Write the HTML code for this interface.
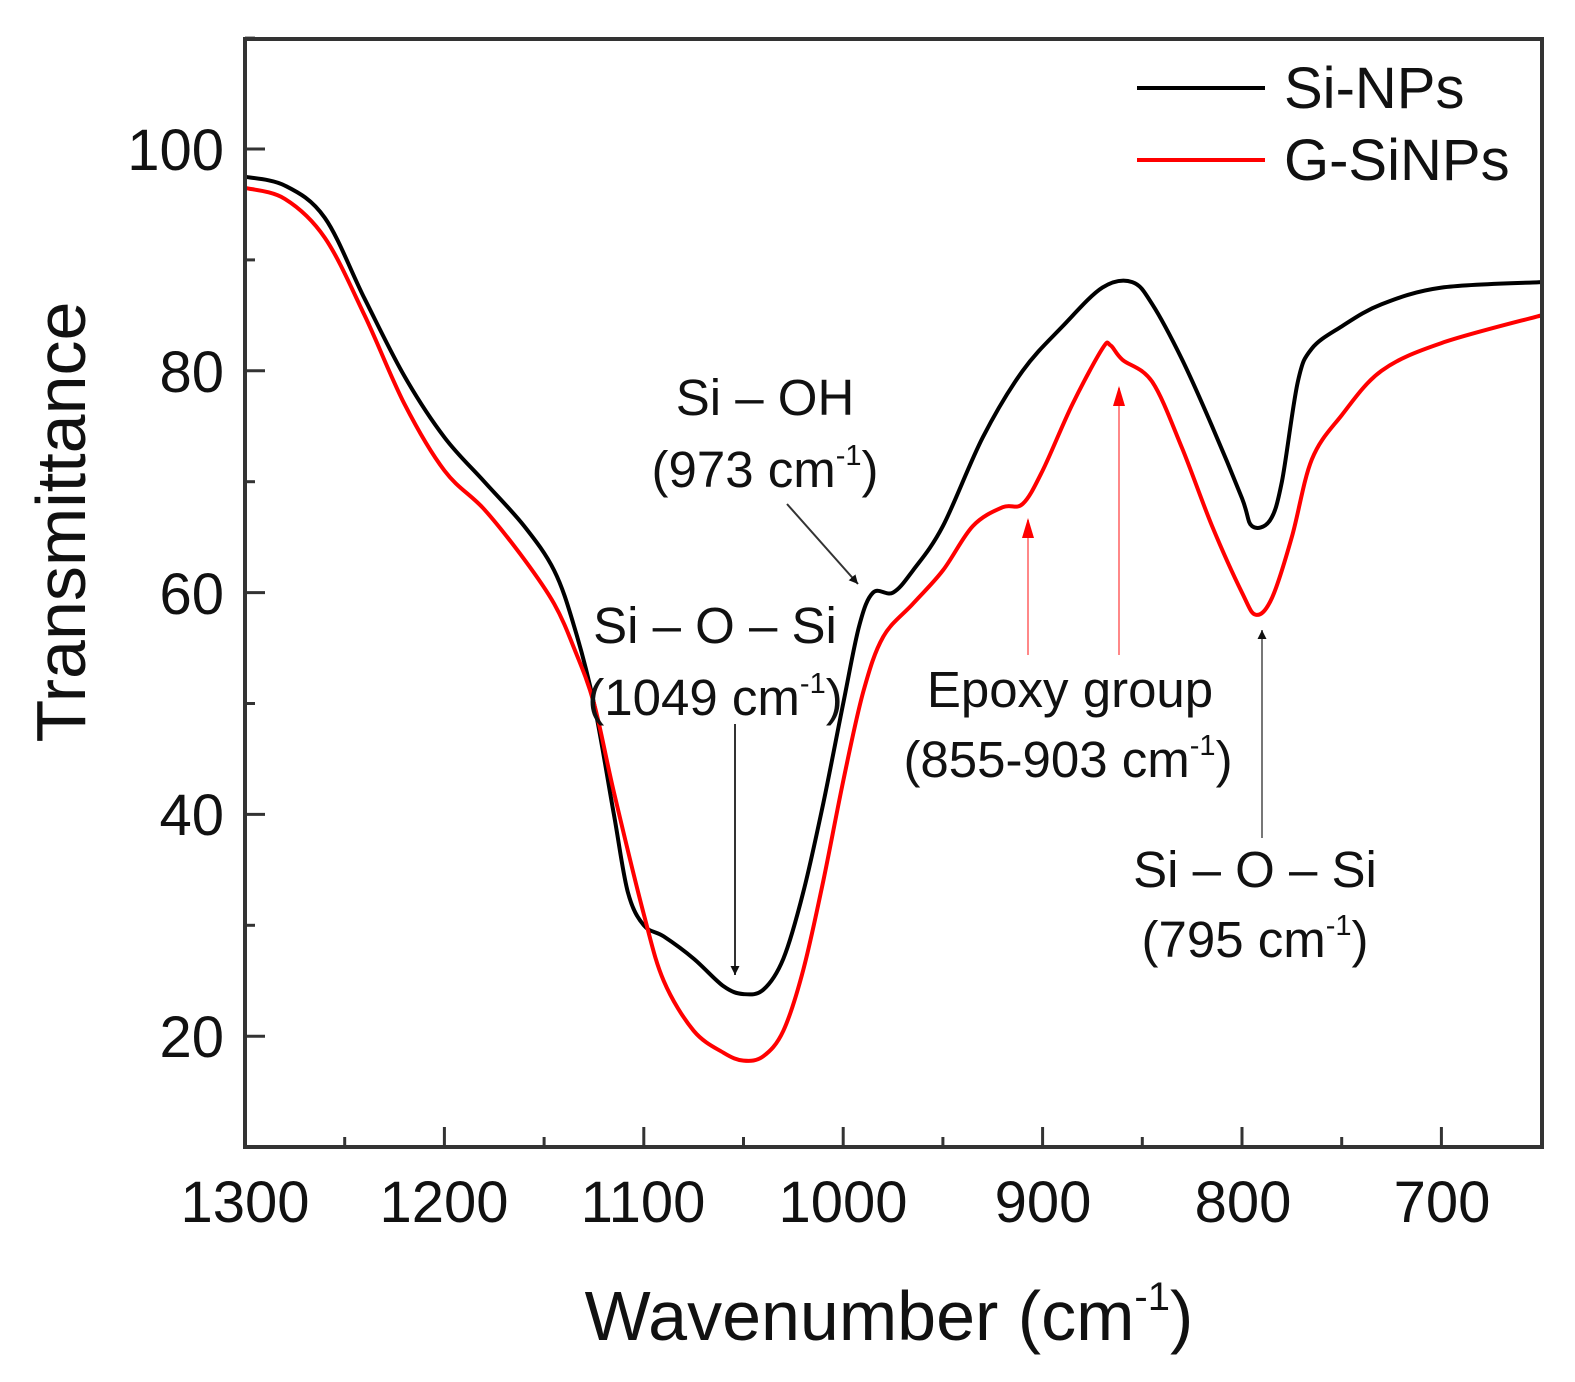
<!DOCTYPE html>
<html><head><meta charset="utf-8"><style>
html,body{margin:0;padding:0;background:#fff}
svg{display:block;font-family:"Liberation Sans",Arial,sans-serif}
</style></head><body>
<svg id="s" width="1575" height="1382" viewBox="0 0 1575 1382" xmlns="http://www.w3.org/2000/svg">
<defs>
<marker id="ab" viewBox="0 0 10 10" refX="10" refY="5" markerWidth="9" markerHeight="9" orient="auto-start-reverse" markerUnits="userSpaceOnUse"><path d="M0,0 L10,5 L0,10 z" fill="#111"/></marker>
</defs>
<g id="curves"></g>
<rect x="245" y="39" width="1297" height="1108" fill="none" stroke="#333" stroke-width="4"/>
<g id="ticks" stroke="#333" stroke-width="3"></g>
<g font-size="58" fill="#111" text-anchor="end">
<text x="224" y="170">100</text><text x="224" y="392">80</text><text x="224" y="614">60</text><text x="224" y="835">40</text><text x="224" y="1057">20</text>
</g>
<g font-size="58" fill="#111" text-anchor="middle">
<text x="245" y="1222">1300</text><text x="444" y="1222">1200</text><text x="643" y="1222">1100</text><text x="843" y="1222">1000</text><text x="1043" y="1222">900</text><text x="1243" y="1222">800</text><text x="1442" y="1222">700</text>
</g>
<text x="889" y="1340" font-size="70" text-anchor="middle" fill="#111">Wavenumber (cm<tspan font-size="40" dy="-30">-1</tspan><tspan dy="30">)</tspan></text>
<text transform="translate(85,522) rotate(-90)" font-size="70" text-anchor="middle" fill="#111">Transmittance</text>
<line x1="1137" y1="88" x2="1265" y2="88" stroke="#000" stroke-width="4"/>
<line x1="1137" y1="160" x2="1265" y2="160" stroke="#f00" stroke-width="4"/>
<text x="1284" y="108" font-size="58" fill="#111">Si-NPs</text>
<text x="1284" y="180" font-size="58" fill="#111">G-SiNPs</text>
<g font-size="51" fill="#111" text-anchor="middle">
<text x="765" y="415">Si – OH</text>
<text x="765" y="487">(973 cm<tspan font-size="29" dy="-22">-1</tspan><tspan dy="22">)</tspan></text>
<text x="715" y="643">Si – O – Si</text>
<text x="715" y="715">(1049 cm<tspan font-size="29" dy="-22">-1</tspan><tspan dy="22">)</tspan></text>
<text x="1070" y="707">Epoxy group</text>
<text x="1068" y="777">(855-903 cm<tspan font-size="29" dy="-22">-1</tspan><tspan dy="22">)</tspan></text>
<text x="1255" y="887">Si – O – Si</text>
<text x="1255" y="957">(795 cm<tspan font-size="29" dy="-22">-1</tspan><tspan dy="22">)</tspan></text>
</g>
<line x1="787" y1="504" x2="858" y2="584" stroke="#333" stroke-width="2" marker-end="url(#ab)"/>
<line x1="735" y1="724" x2="735" y2="975" stroke="#333" stroke-width="2" marker-end="url(#ab)"/>
<line x1="1262" y1="838" x2="1262" y2="630" stroke="#777" stroke-width="2" marker-end="url(#ab)"/>
<line x1="1028" y1="655" x2="1028" y2="520" stroke="#f88" stroke-width="2"/>
<path d="M1022,538 L1028,518 L1034,538 z" fill="#f00"/>
<line x1="1119" y1="655" x2="1119" y2="388" stroke="#f88" stroke-width="2"/>
<path d="M1113,406 L1119,386 L1125,406 z" fill="#f00"/>
</svg>
<script>
var X=function(w){return 245+(1300-w)*1.994},Y=function(t){return 149+(100-t)*11.09};
var blk=[[1300,97.5],[1280,96.7],[1260,93.8],[1240,86.5],[1220,79.5],[1200,74],[1180,70],[1160,66],[1145,62],[1135,57],[1125,50],[1115,40],[1108,33],[1100,30],[1090,29],[1075,27],[1060,24.5],[1050,23.8],[1040,24.2],[1030,27],[1020,33],[1010,41],[1000,50],[992,57],[985,60],[975,60],[965,62],[950,66],[930,74],[910,80],[890,84],[870,87.5],[855,88],[845,86],[830,81],[815,75],[800,68.5],[795,66],[786,66.5],[780,70],[772,79],[765,82],[750,84],[730,86],[700,87.5],[650,88]];
var red=[[1300,96.5],[1280,95.5],[1260,92],[1240,85],[1220,77],[1200,71],[1180,67.5],[1160,63],[1145,59],[1135,55],[1125,50],[1115,42],[1100,31],[1090,25],[1075,20.5],[1060,18.5],[1050,17.8],[1040,18.2],[1030,20.5],[1020,26],[1010,34],[1000,43],[990,51],[980,56],[965,59],[950,62],[935,66],[920,67.7],[910,68],[900,71],[885,77],[870,82],[866,82.3],[860,81],[845,79],[830,73],[815,66],[800,60],[793,58],[785,59.5],[775,65],[765,72],[750,76],[730,80],[700,82.5],[650,85]];
function path(d){var p=d.map(function(a){return [X(a[0]),Y(a[1])]});var s="M"+p[0][0].toFixed(1)+","+p[0][1].toFixed(1);
for(var i=0;i<p.length-1;i++){var p0=p[i-1]||p[i],p1=p[i],p2=p[i+1],p3=p[i+2]||p2;
s+=" C"+(p1[0]+(p2[0]-p0[0])/6).toFixed(1)+","+(p1[1]+(p2[1]-p0[1])/6).toFixed(1)+" "+(p2[0]-(p3[0]-p1[0])/6).toFixed(1)+","+(p2[1]-(p3[1]-p1[1])/6).toFixed(1)+" "+p2[0].toFixed(1)+","+p2[1].toFixed(1);}return s;}
var g=document.getElementById("curves"),ns="http://www.w3.org/2000/svg";
[[blk,"#000"],[red,"#f00"]].forEach(function(c){var e=document.createElementNS(ns,"path");e.setAttribute("d",path(c[0]));e.setAttribute("fill","none");e.setAttribute("stroke",c[1]);e.setAttribute("stroke-width","4");g.appendChild(e);});
var t=document.getElementById("ticks"),h="";
for(var w=1300;w>650;w-=50){var x=X(w),L=(w%100==0)?20:10;h+='<line x1="'+x+'" y1="1147" x2="'+x+'" y2="'+(1147-L)+'"/>';}
for(var v=10;v<=110;v+=10){var y=Y(v),L=(v%20==0)?20:10;h+='<line x1="245" y1="'+y+'" x2="'+(245+L)+'" y2="'+y+'"/>';}
t.innerHTML=h;
</script>
</body></html>
